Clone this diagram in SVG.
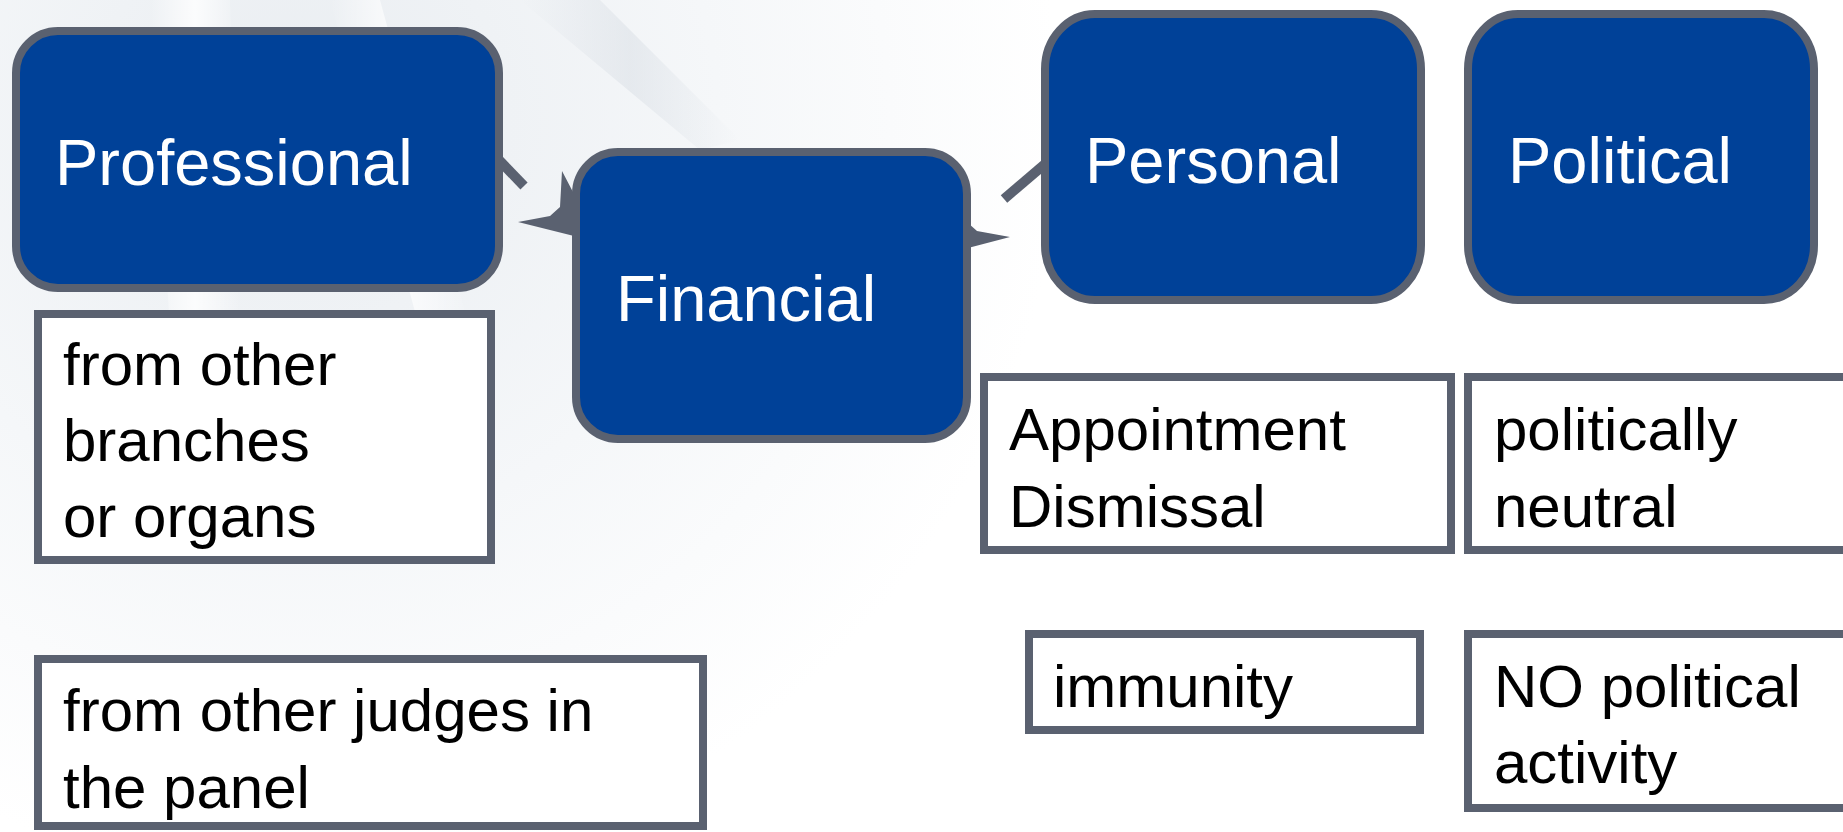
<svg xmlns="http://www.w3.org/2000/svg" width="1843" height="832" viewBox="0 0 1843 832">
<defs>
<radialGradient id="bgGlow" cx="300" cy="120" r="760" gradientUnits="userSpaceOnUse">
<stop offset="0" stop-color="#e9edf1"/>
<stop offset="0.55" stop-color="#f5f7f9"/>
<stop offset="1" stop-color="#ffffff"/>
</radialGradient>
<linearGradient id="ray" x1="0" y1="0" x2="1" y2="0">
<stop offset="0" stop-color="#ffffff" stop-opacity="0"/>
<stop offset="0.5" stop-color="#ffffff" stop-opacity="0.8"/>
<stop offset="1" stop-color="#ffffff" stop-opacity="0"/>
</linearGradient>
<linearGradient id="rayDark" x1="0" y1="0" x2="1" y2="0">
<stop offset="0" stop-color="#d5dbe2" stop-opacity="0"/>
<stop offset="0.5" stop-color="#d5dbe2" stop-opacity="0.45"/>
<stop offset="1" stop-color="#d5dbe2" stop-opacity="0"/>
</linearGradient>
<style>
.node rect { fill: #004198; stroke: #5a6170; stroke-width: 8; }
.box rect { fill: #ffffff; stroke: #5a6170; stroke-width: 8; }
.title { font-family: "Liberation Sans", Arial, sans-serif; font-size: 65px; fill: #ffffff; }
.body { font-family: "Liberation Sans", Arial, sans-serif; font-size: 60px; fill: #000000; }
.conn line { stroke: #5a6170; stroke-width: 10; }
.conn polygon { fill: #5a6170; }
</style>
</defs>

<g id="background">
<rect x="0" y="0" width="1843" height="832" fill="#ffffff"/>
<rect x="0" y="0" width="1100" height="832" fill="url(#bgGlow)"/>
<polygon points="520,0 600,0 740,140 700,150" fill="url(#rayDark)"/>
<polygon points="150,0 230,0 240,330 170,330" fill="url(#ray)"/>
<polygon points="330,0 380,0 470,330 420,330" fill="url(#ray)"/>
</g>

<g id="connectors" class="conn">
<line x1="498" y1="159" x2="524" y2="186"/>
<polygon points="518,222 550,216 560,207 562,171 574,194 574,236"/>
<line x1="1004" y1="199" x2="1045" y2="164"/>
<polygon points="968,223 977,231 1010,237 968,248"/>
</g>

<g id="node-professional" class="node">
<rect x="16" y="31" width="483" height="257" rx="42" ry="42"/>
<text class="title" x="55" y="185">Professional</text>
</g>
<g id="node-financial" class="node">
<rect x="576" y="152" width="391" height="287" rx="42" ry="42"/>
<text class="title" x="616" y="321">Financial</text>
</g>
<g id="node-personal" class="node">
<rect x="1045" y="14" width="376" height="286" rx="50" ry="55"/>
<text class="title" x="1085" y="183">Personal</text>
</g>
<g id="node-political" class="node">
<rect x="1468" y="14" width="346" height="286" rx="50" ry="55"/>
<text class="title" x="1508" y="183">Political</text>
</g>

<g id="box-branches" class="box">
<rect x="38" y="314" width="453" height="246"/>
<text class="body" x="63" y="385">from other</text>
<text class="body" x="63" y="461">branches</text>
<text class="body" x="63" y="537">or organs</text>
</g>
<g id="box-judges" class="box">
<rect x="38" y="659" width="665" height="167"/>
<text class="body" x="63" y="731">from other judges in</text>
<text class="body" x="63" y="808">the panel</text>
</g>
<g id="box-appointment" class="box">
<rect x="984" y="377" width="467" height="173"/>
<text class="body" x="1009" y="450">Appointment</text>
<text class="body" x="1009" y="527">Dismissal</text>
</g>
<g id="box-neutral" class="box">
<rect x="1468" y="377" width="400" height="173"/>
<text class="body" x="1494" y="450">politically</text>
<text class="body" x="1494" y="527">neutral</text>
</g>
<g id="box-immunity" class="box">
<rect x="1029" y="634" width="391" height="96"/>
<text class="body" x="1053" y="707">immunity</text>
</g>
<g id="box-activity" class="box">
<rect x="1468" y="634" width="400" height="174"/>
<text class="body" x="1494" y="707">NO political</text>
<text class="body" x="1494" y="783">activity</text>
</g>
</svg>
